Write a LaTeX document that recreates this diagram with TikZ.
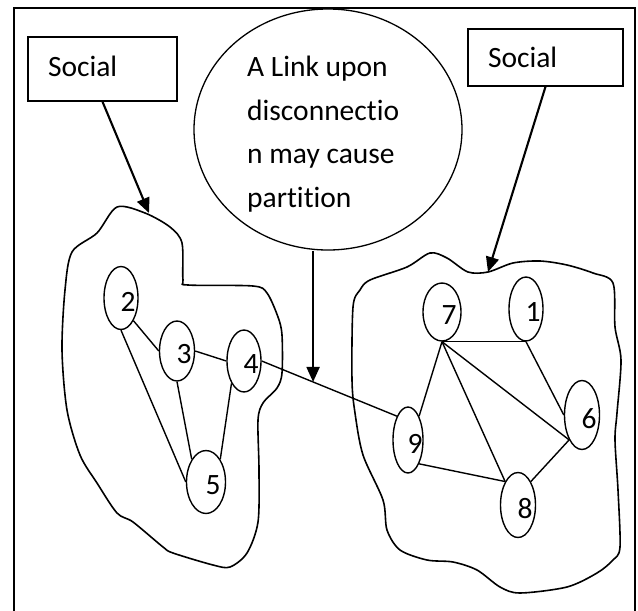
\documentclass[tikz,border=0pt]{standalone}
\usepackage{fontspec}
\setmainfont[Ligatures=NoCommon]{Carlito}
\usetikzlibrary{positioning,arrows.meta,calc,shapes.geometric}
\tikzset{
    socialbox/.style={draw,line width=1.4pt,inner xsep=20pt,inner ysep=0pt,align=left},
    bubble/.style={ellipse,draw,line width=1.3pt,minimum width=268pt,minimum height=241pt,inner sep=0pt},
    vtx/.style={ellipse,draw,line width=1.4pt,inner sep=0pt,
        label={[xshift=7pt,yshift=-3.5pt]center:#1}},
    link/.style={line width=1.4pt},
    blob/.style={line width=1.6pt,line join=round},
    arrow/.style={-{Triangle[length=15pt,width=13pt]},line width=2.1pt},
    outerframe/.style={line width=1.8pt}
}

\begin{document}
\begin{tikzpicture}[x=1pt,y=-1pt,every node/.style={font=\fontsize{29.5}{43.7}\selectfont}]
    \useasboundingbox (0,0) rectangle (638,611);
    \draw[outerframe] (14,611) -- (14,8) -- (635,8) -- (635,611);

    % the two groups
    \draw[blob] plot[smooth cycle,tension=0.5] coordinates {
        (117,207) (145,213) (170,227) (182,243) (183,280) (188,285) (253,286)
        (267,293) (278,317) (282,335) (282,373) (277,388) (263,403) (258,420)
        (259,470) (258,522) (247,553) (230,567) (213,565) (173,553) (163,547)
        (133,522) (117,513) (97,483) (80,455) (67,410) (62,350) (65,290)
        (72,252) (97,233)};
    \draw[blob] plot[smooth cycle,tension=0.5] coordinates {
        (488,272) (513,263) (540,261) (567,265) (593,273) (613,283) (615,327)
        (621,360) (617,413) (615,440) (618,490) (620,547) (613,560) (597,573)
        (567,587) (520,593) (500,587) (477,570) (453,562) (427,560) (400,550)
        (387,530) (383,500) (363,455) (355,413) (352,380) (353,307) (360,290)
        (370,280) (407,267) (430,253) (447,258) (468,272)};

    % labels
    \node[socialbox,text width=109pt,minimum height=64pt,text depth=6pt] (socL) at (102.5,69) {Social};
    \node[socialbox,text width=115pt,minimum height=57pt] (socR) at (545.5,57.5) {Social};
    \node[bubble] (bubble) at (328,129.5) {};
    \node[anchor=west,align=left,inner sep=0pt] (note) at (247,134)
        {A Link upon\\disconnectio\\n may cause\\partition};

    % nodes
    \node[vtx=2,minimum width=34pt,minimum height=63pt] (n2) at (121,298) {};
    \node[vtx=3,minimum width=35pt,minimum height=60pt] (n3) at (177,351) {};
    \node[vtx=4,minimum width=34pt,minimum height=62pt] (n4) at (244,361) {};
    \node[vtx=5,minimum width=39pt,minimum height=63pt] (n5) at (206,482) {};
    \node[vtx=7,minimum width=38pt,minimum height=58pt] (n7) at (442,312) {};
    \node[vtx=1,minimum width=34pt,minimum height=64pt] (n1) at (526,309) {};
    \node[vtx=6,minimum width=35pt,minimum height=69pt] (n6) at (582,415) {};
    \node[vtx=9,minimum width=30pt,minimum height=66pt] (n9) at (408,440) {};
    \node[vtx=8,minimum width=35pt,minimum height=65pt] (n8) at (518,505) {};

    % links
    \draw[link] (n2.south east) -- (n3.west);
    \draw[link] (n3.east) -- (n4.west);
    \draw[link] (n2.south) -- (n5.west);
    \draw[link] (n3.south) -- (n5.north west);
    \draw[link] (n4.south west) -- (n5.north east);
    \draw[link] (n4.east) -- (n9.north west);
    \draw[link] (n7.south) -- (n1.south);
    \draw[link] (n7.south) -- (n9.north east);
    \draw[link] (n7.south) -- (n8.north west);
    \draw[link] (n7.south) -- (n6.south west);
    \draw[link] (n1.south) -- (n6.west);
    \draw[link] (n9.south east) -- (n8.north west);
    \draw[link] (n6.south west) -- (n8.north east);

    % arrows
    \coordinate (grpL) at (149,213);
    \coordinate (grpR) at (488,272);
    \coordinate (cut) at ($(n4.east)!0.38!(n9.north west)$);
    \draw[arrow] (socL.south) -- (grpL);
    \draw[arrow] (socR.south) -- (grpR);
    \draw[arrow] (cut |- bubble.south) -- (cut);
\end{tikzpicture}
\end{document}
